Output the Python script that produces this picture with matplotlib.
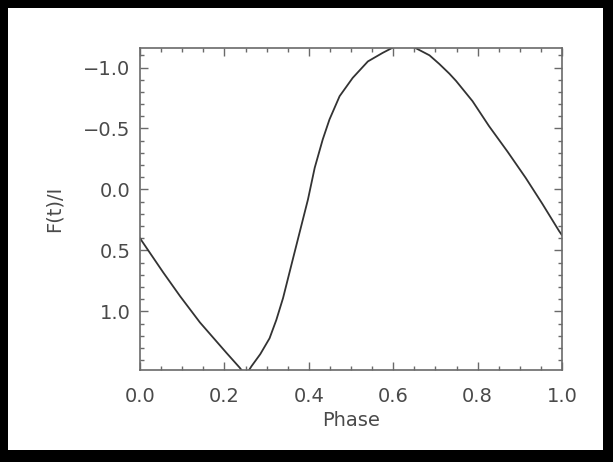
import numpy as np
import matplotlib.pyplot as plt
from matplotlib.patches import Rectangle
from matplotlib.ticker import MultipleLocator

# light curve (phase, normalised flux)
phase = [0.0, 0.055, 0.095, 0.142, 0.205, 0.236, 0.245, 0.255, 0.264, 0.285,
         0.307, 0.323, 0.339, 0.362, 0.386, 0.398, 0.414, 0.433, 0.449, 0.473,
         0.504, 0.540, 0.575, 0.60, 0.625, 0.65, 0.686, 0.709, 0.733, 0.749,
         0.788, 0.827, 0.871, 0.914, 0.953, 0.993, 1.0]
flux = [0.40, 0.68, 0.875, 1.09, 1.34, 1.46, 1.50, 1.50, 1.45, 1.35,
        1.22, 1.07, 0.89, 0.574, 0.246, 0.082, -0.178, -0.41, -0.574, -0.765,
        -0.915, -1.05, -1.12, -1.165, -1.18, -1.165, -1.10, -1.03, -0.95, -0.89,
        -0.724, -0.52, -0.31, -0.095, 0.115, 0.34, 0.375]

txt = '#4a4a4a'
edge = '#6a6a6a'

fig = plt.figure(figsize=(6.13, 4.62), dpi=100)
fig.patch.set_facecolor('black')
fig.add_artist(Rectangle((8 / 613, 1 - 450 / 462), 595 / 613, 442 / 462,
                         transform=fig.transFigure, facecolor='white',
                         edgecolor='none', zorder=-5))

ax = fig.add_axes([140 / 613, 1 - 370 / 462, 422 / 613, 322 / 462])
ax.plot(phase, flux, color='#333333', lw=1.3)

ax.set_xlim(0, 1)
ax.set_ylim(1.48, -1.16)
ax.xaxis.set_major_locator(MultipleLocator(0.2))
ax.xaxis.set_minor_locator(MultipleLocator(0.05))
ax.yaxis.set_major_locator(MultipleLocator(0.5))
ax.yaxis.set_minor_locator(MultipleLocator(0.1))
ax.xaxis.set_major_formatter(lambda v, p: f'{v:.1f}')
ax.yaxis.set_major_formatter(lambda v, p: f'{v:.1f}'.replace('-', '\u2212'))

ax.tick_params(which='both', direction='in', top=True, right=True,
               color=edge, labelcolor=txt, labelsize=14, width=1)
ax.tick_params(which='major', length=6)
ax.tick_params(which='minor', length=3)
ax.tick_params(axis='x', pad=12)
ax.tick_params(axis='y', pad=7)
for s in ax.spines.values():
    s.set_color(edge)
    s.set_linewidth(1.2)

ax.set_xlabel('Phase', fontsize=14, color=txt, labelpad=4)
ax.set_ylabel('F(t)/I', fontsize=14, color=txt, labelpad=14)

fig.savefig('out.png', dpi=100, facecolor=fig.get_facecolor())
